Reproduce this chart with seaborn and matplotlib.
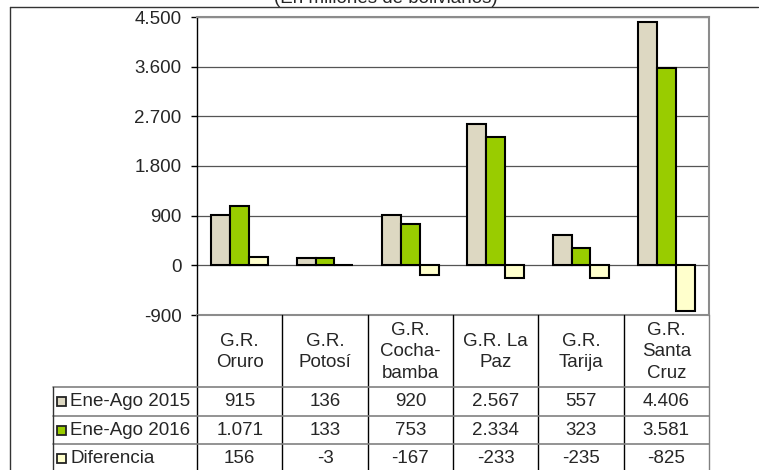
import numpy as np
import pandas as pd
import matplotlib
matplotlib.use('Agg')
import matplotlib.pyplot as plt
import matplotlib.transforms as mtransforms
from matplotlib.lines import Line2D
from matplotlib.patches import Rectangle
import seaborn as sns

# --- data ---
regiones = ['G.R.\nOruro', 'G.R.\nPotosí', 'G.R.\nCocha-\nbamba', 'G.R. La\nPaz', 'G.R.\nTarija', 'G.R.\nSanta\nCruz']
series = ['Ene-Ago 2015', 'Ene-Ago 2016', 'Diferencia']
ene_ago_2015 = [915, 136, 920, 2567, 557, 4406]
ene_ago_2016 = [1071, 133, 753, 2334, 323, 3581]
diferencia = [156, -3, -167, -233, -235, -825]
colores = ['#DDD8C2', '#99CC00', '#FFFFCC']
yticks = list(range(-900, 4501, 900))
titulo = '(En millones de bolivianos)'

valores = [ene_ago_2015, ene_ago_2016, diferencia]
df = pd.DataFrame({
    'region': regiones * 3,
    'serie': np.repeat(series, len(regiones)),
    'valor': ene_ago_2015 + ene_ago_2016 + diferencia,
})

W, H = 759, 470
FS = 13.5
sns.set_style('white')
plt.rcParams['font.family'] = ['Liberation Sans', 'DejaVu Sans']

fig = plt.figure(figsize=(W / 100, H / 100), dpi=100)

def fx(px):
    return px / W

def fy(py):
    return 1 - py / H

def miles(v):
    return f'{v:,.0f}'.replace(',', '.')

# plot area in pixels
L, R, T, B = 197, 709, 17, 315
ax = fig.add_axes([fx(L), fy(B), fx(R - L), (B - T) / H])

sns.barplot(data=df, x='region', y='valor', hue='serie', palette=colores,
            saturation=1, width=0.667, edgecolor='black', linewidth=1.5,
            legend=False, ax=ax, zorder=3)

ax.set_ylim(-900, 4500)
ax.set_xlim(-0.5, len(regiones) - 0.5)
ax.set_yticks(yticks)
ax.set_yticklabels([miles(v) for v in yticks], fontsize=FS)
ax.set_xticks([])
ax.set_xlabel('')
ax.set_ylabel('')
ax.yaxis.grid(True, color='#555555', linewidth=0.9)
ax.set_axisbelow(True)
ax.tick_params(axis='y', direction='out', length=4.5, width=1, color='black', left=True, pad=6.5)
for s in ['top', 'right', 'bottom']:
    ax.spines[s].set_color('#8c8c8c')
    ax.spines[s].set_linewidth(1.5)
ax.spines['left'].set_color('black')
ax.spines['left'].set_linewidth(1)

# title (partially cut at top, as in source)
fig.text(fx(386), fy(3), titulo, ha='center', va='baseline', fontsize=FS)

# outer frame
fig.add_artist(Line2D([fx(10), fx(10)], [fy(7), fy(470)], color='#333333', lw=1))
fig.add_artist(Line2D([fx(10), fx(758)], [fy(7), fy(7)], color='#333333', lw=1))

# --- data table below the chart ---
tr = mtransforms.blended_transform_factory(ax.transData, fig.transFigure)
row_edges = [387, 416, 444]
row_h = 28.5
gray = '#808080'

# vertical lines at category boundaries
for i in range(len(regiones) + 1):
    xb = i - 0.5
    col = gray if i == len(regiones) else 'black'
    fig.add_artist(Line2D([xb, xb], [fy(B), fy(H)], color=col, lw=1, transform=tr))

# horizontal lines
for y in row_edges:
    fig.add_artist(Line2D([fx(53), fx(R)], [fy(y), fy(y)], color=gray, lw=1.2))
fig.add_artist(Line2D([fx(53), fx(53)], [fy(row_edges[0]), fy(H)], color='#333333', lw=1))

# header: region names
for i, reg in enumerate(regiones):
    fig.text(i, fy((B + row_edges[0]) / 2 + 1), reg, ha='center', va='center',
             fontsize=FS, linespacing=1.38, transform=tr)

# rows: legend key + values
for r, (nombre, vals, c) in enumerate(zip(series, valores, colores)):
    yc = row_edges[r] + row_h / 2
    fig.add_artist(Rectangle((fx(57), fy(yc + 4.5)), fx(9), 9 / H,
                             facecolor=c, edgecolor='#222222', lw=1.3))
    fig.text(fx(70), fy(yc), nombre, ha='left', va='center', fontsize=FS)
    for i, v in enumerate(vals):
        fig.text(i, fy(yc), miles(v), ha='center', va='center',
                 fontsize=FS, transform=tr)

fig.savefig('out.png', dpi=100)
